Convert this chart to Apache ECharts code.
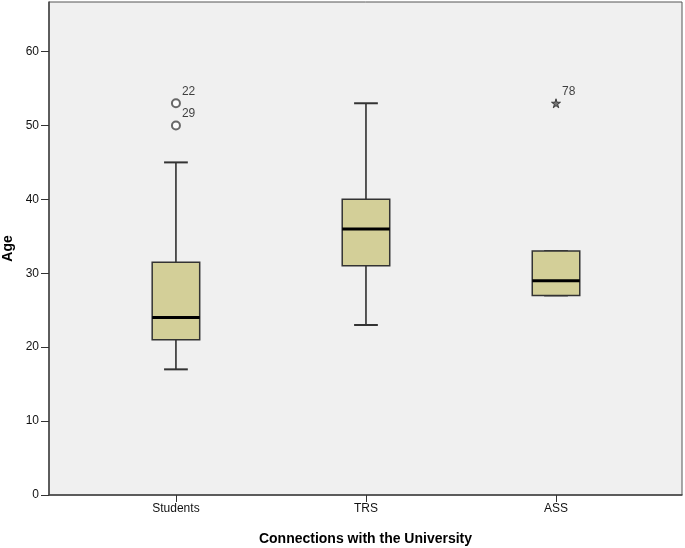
<!DOCTYPE html>
<html>
<head>
<meta charset="utf-8">
<script src="https://cdn.jsdelivr.net/npm/echarts@6/dist/echarts.min.js"></script>
<style>
  html, body { margin: 0; padding: 0; background: #fff; }
  #main { width: 685px; height: 548px; }
</style>
</head>
<body>
<div id="main"></div>
<script>
  var categories = ['Students', 'TRS', 'ASS']
  // [min whisker, Q1, median, Q3, max whisker]
  var boxStats = [
    [17, 21, 24, 31.5, 45],
    [23, 31, 36, 40, 53],
    [27, 27, 29, 33, 33],
  ]
  // outliers: [category index, value, case id]
  var outliers = [
    [0, 53, '22'],
    [0, 50, '29'],
  ]
  var extremes = [
    [2, 53, '78'],
  ]
  var yTicks = [0, 10, 20, 30, 40, 50, 60]

  var myChart = echarts.init(document.getElementById('main'))

  var boxData = boxStats.map(function (s, i) {
    return [i].concat(s)
  })

  var font = 'Liberation Sans, Arial, sans-serif'
  var starPath =
    'path://M50,0 L61,35 L98,35 L68,57 L79,91 L50,70 L21,91 L32,57 L2,35 L39,35 Z'

  var option = {
    animation: false,
    grid: {
      left: 49,
      top: 2,
      right: 3,
      bottom: 53,
      outerBoundsMode: 'none',
      containLabel: false,
      show: true,
      backgroundColor: '#f0f0f0',
      borderColor: '#555',
      borderWidth: 1,
    },
    xAxis: {
      type: 'value',
      min: -0.668,
      max: 2.663,
      name: 'Connections with the University',
      nameLocation: 'middle',
      nameGap: 37,
      nameTextStyle: { fontFamily: font, fontSize: 14, fontWeight: 'bold', color: '#000' },
      splitLine: { show: false },
      axisLine: { onZero: false, lineStyle: { color: '#444', width: 1.5 } },
      axisTick: { customValues: [0, 1, 2], length: 7, lineStyle: { color: '#333' } },
      axisLabel: {
        customValues: [0, 1, 2],
        formatter: function (v) { return categories[Math.round(v)] },
        fontFamily: font,
        fontSize: 12,
        color: '#111',
        margin: 8,
      },
    },
    yAxis: {
      type: 'value',
      min: 0,
      max: 66.7,
      name: 'Age',
      nameLocation: 'middle',
      nameGap: 30,
      nameTextStyle: { fontFamily: font, fontSize: 14, fontWeight: 'bold', color: '#000' },
      splitLine: { show: false },
      axisLine: { show: true, onZero: false, lineStyle: { color: '#444', width: 1.5 } },
      axisTick: { show: true, customValues: yTicks, length: 8, lineStyle: { color: '#333' } },
      axisLabel: {
        customValues: yTicks,
        fontFamily: font,
        fontSize: 12,
        color: '#111',
        margin: 10,
      },
    },
    series: [
      {
        type: 'custom',
        data: boxData,
        renderItem: function (params, api) {
          var x = api.value(0)
          var band = api.size([1, 0])[0]
          var half = band * 0.125
          var cap = band * 0.0625
          var pMin = api.coord([x, api.value(1)])
          var pQ1 = api.coord([x, api.value(2)])
          var pMed = api.coord([x, api.value(3)])
          var pQ3 = api.coord([x, api.value(4)])
          var pMax = api.coord([x, api.value(5)])
          var cx = pQ1[0]
          var line = { stroke: '#222', lineWidth: 1.5 }
          return {
            type: 'group',
            children: [
              { type: 'line', shape: { x1: cx, y1: pMax[1], x2: cx, y2: pQ3[1] }, style: line },
              { type: 'line', shape: { x1: cx, y1: pQ1[1], x2: cx, y2: pMin[1] }, style: line },
              { type: 'line', shape: { x1: cx - cap, y1: pMax[1], x2: cx + cap, y2: pMax[1] }, style: { stroke: '#333', lineWidth: 2 } },
              { type: 'line', shape: { x1: cx - cap, y1: pMin[1], x2: cx + cap, y2: pMin[1] }, style: { stroke: '#333', lineWidth: 2 } },
              {
                type: 'rect',
                shape: { x: cx - half, y: pQ3[1], width: half * 2, height: pQ1[1] - pQ3[1] },
                style: { fill: '#d3cf98', stroke: '#333', lineWidth: 1.5 },
              },
              { type: 'line', shape: { x1: cx - half, y1: pMed[1], x2: cx + half, y2: pMed[1] }, style: { stroke: '#000', lineWidth: 3 } },
            ],
          }
        },
      },
      {
        type: 'scatter',
        data: outliers,
        symbol: 'emptyCircle',
        symbolSize: 8,
        itemStyle: { color: '#444', borderWidth: 1 },
        label: {
          show: true,
          formatter: function (p) { return p.data[2] },
          position: 'right',
          offset: [-4, -12],
          fontFamily: font,
          fontSize: 12,
          color: '#111',
        },
      },
      {
        type: 'scatter',
        data: extremes,
        symbol: starPath,
        symbolSize: 9,
        itemStyle: { color: '#555', borderColor: '#222', borderWidth: 1 },
        label: {
          show: true,
          formatter: function (p) { return p.data[2] },
          position: 'right',
          offset: [-4, -12],
          fontFamily: font,
          fontSize: 12,
          color: '#111',
        },
      },
    ],
  }

  myChart.setOption(option)
</script>
</body>
</html>
